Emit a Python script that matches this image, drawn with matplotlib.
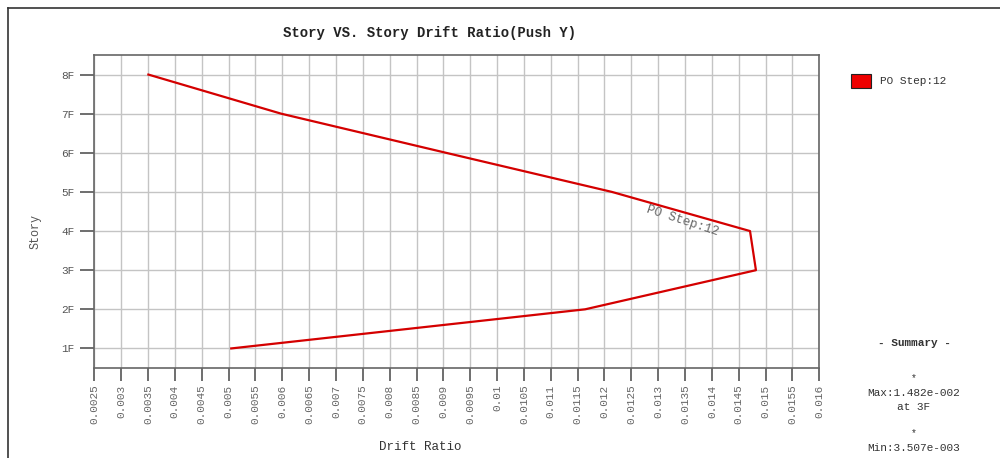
import matplotlib
matplotlib.use("Agg")
import matplotlib.pyplot as plt
from matplotlib.lines import Line2D
from matplotlib.patches import Rectangle

# ---- data ----
stories = ["1F", "2F", "3F", "4F", "5F", "6F", "7F", "8F"]
story_levels = [1, 2, 3, 4, 5, 6, 7, 8]
drift_ratio = [0.00505, 0.01164, 0.01482, 0.01471, 0.01214, 0.00905, 0.00598, 0.003507]
x_ticks = [0.0025 + 0.0005 * i for i in range(28)]
x_tick_labels = ["0.0025", "0.003", "0.0035", "0.004", "0.0045", "0.005", "0.0055",
                 "0.006", "0.0065", "0.007", "0.0075", "0.008", "0.0085", "0.009",
                 "0.0095", "0.01", "0.0105", "0.011", "0.0115", "0.012", "0.0125",
                 "0.013", "0.0135", "0.014", "0.0145", "0.015", "0.0155", "0.016"]
series_name = "PO Step:12"
title = "Story VS. Story Drift Ratio(Push Y)"
summary_lines = ["- Summary -", "*", "Max:1.482e-002", "at 3F", "*", "Min:3.507e-003", "at 8F"]

FONT = "Liberation Mono"
W, H = 1000, 458
fig = plt.figure(figsize=(W / 100, H / 100), dpi=100)
fig.patch.set_facecolor("white")

def fx(px):
    return px / W

def fy(py):
    return 1 - py / H

ax = fig.add_axes([fx(94.3), fy(368), fx(819.3) - fx(94.3), fy(55) - fy(368)])
ax.plot(drift_ratio, story_levels, color="#d40000", lw=1.6, zorder=3)
ax.set_xlim(0.0025, 0.016)
ax.set_ylim(0.5, 8.5)
ax.set_xticks(x_ticks)
ax.set_xticklabels(x_tick_labels, rotation=90, family=FONT, fontsize=8, color="#666666")
ax.set_yticks(story_levels)
ax.set_yticklabels(stories, family=FONT, fontsize=8, color="#555555")
ax.tick_params(axis="x", length=9, width=1.2, color="#555555", pad=3)
ax.tick_params(axis="y", length=10, width=1.2, color="#555555", pad=4)
ax.grid(True, color="#c4c4c4", lw=1.0, zorder=0)
ax.set_axisbelow(True)
for s in ax.spines.values():
    s.set_color("#666666")
    s.set_linewidth(1.2)

# in-line series label
ax.text(0.01345, 4.27, series_name, rotation=-18, family=FONT, fontsize=9,
        color="#666666", ha="center", va="center", rotation_mode="anchor")

# title and axis labels
fig.text(fx(430), fy(33), title, family=FONT, fontsize=10, fontweight="bold",
         ha="center", va="center", color="#222222")
fig.text(fx(420), fy(447), "Drift Ratio", family=FONT, fontsize=9,
         ha="center", va="center", color="#333333")
fig.text(fx(35), fy(232), "Story", family=FONT, fontsize=8.5, rotation=90,
         ha="center", va="center", color="#555555")

# legend
fig.add_artist(Rectangle((fx(851), fy(88)), fx(20), fy(74) - fy(88),
                         facecolor="#ee0000", edgecolor="#222222", lw=0.8,
                         transform=fig.transFigure))
fig.text(fx(880), fy(81), series_name, family=FONT, fontsize=8,
         ha="left", va="center", color="#333333")

# summary
summary_y = [343, 378, 393, 407, 433, 448, 462]
for txt, yy in zip(summary_lines, summary_y):
    weight = "bold" if "Summary" in txt else "normal"
    fs = 7 if txt == "*" else 8
    fig.text(fx(914), fy(yy), txt, family=FONT, fontsize=fs, fontweight=weight,
             ha="center", va="center", color="#333333")

# outer frame
fig.add_artist(Line2D([fx(8), 1.0], [fy(8), fy(8)], color="#333333", lw=1.2,
                      transform=fig.transFigure))
fig.add_artist(Line2D([fx(8), fx(8)], [fy(8), 0.0], color="#333333", lw=1.2,
                      transform=fig.transFigure))

fig.savefig("out.png", dpi=100, facecolor="white")
